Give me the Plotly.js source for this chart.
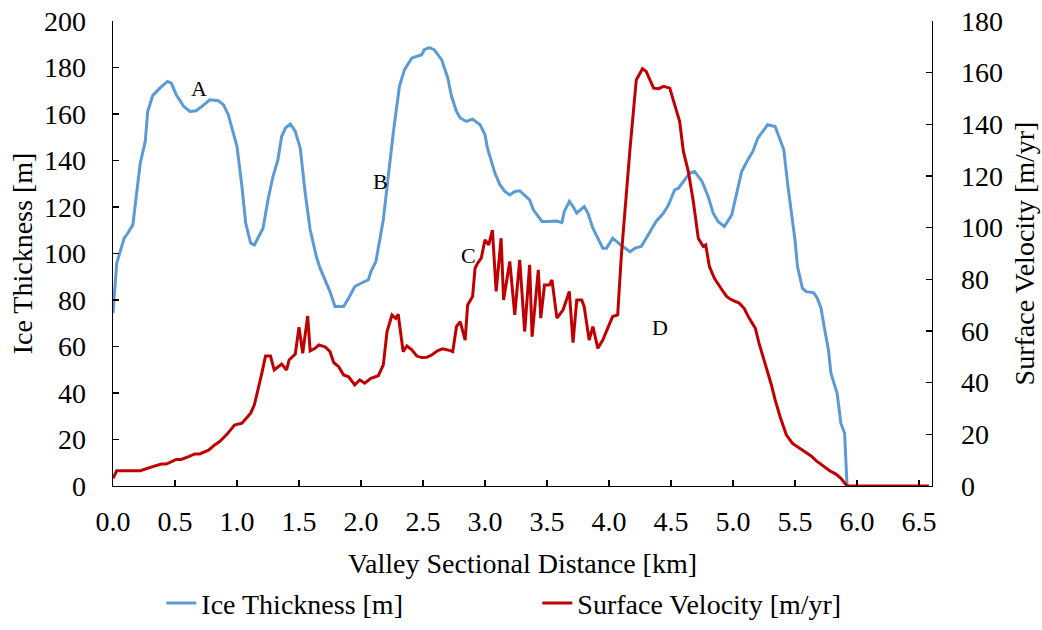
<!DOCTYPE html>
<html>
<head>
<meta charset="utf-8">
<script src="https://cdn.plot.ly/plotly-3.0.1.min.js"></script>
<style>
  html, body { margin: 0; padding: 0; background: #ffffff; }
  #chart { width: 1042px; height: 630px; }
</style>
</head>
<body>
<div id="chart"></div>
<script>
// Ice thickness profile [m] along the valley section [km]
const iceDistKm = [
  0.00, 0.03, 0.09, 0.12, 0.16, 0.19, 0.22, 0.26, 0.28, 0.32,
  0.38, 0.44, 0.47, 0.51, 0.57, 0.62, 0.67, 0.71, 0.78, 0.85,
  0.89, 0.93, 0.97, 1.00, 1.04, 1.07, 1.11, 1.14, 1.21, 1.25,
  1.29, 1.33, 1.36, 1.39, 1.43, 1.47, 1.51, 1.55, 1.59, 1.64,
  1.67, 1.71, 1.75, 1.79, 1.86, 1.90, 1.95, 2.00, 2.06, 2.08,
  2.12, 2.18, 2.22, 2.26, 2.31, 2.35, 2.41, 2.45, 2.49, 2.51,
  2.55, 2.59, 2.65, 2.70, 2.73, 2.77, 2.80, 2.85, 2.90, 2.96,
  3.00, 3.02, 3.08, 3.12, 3.16, 3.20, 3.24, 3.28, 3.32, 3.36,
  3.39, 3.46, 3.51, 3.58, 3.62, 3.64, 3.68, 3.71, 3.74, 3.80,
  3.83, 3.87, 3.91, 3.95, 3.98, 4.03, 4.11, 4.17, 4.21, 4.26,
  4.30, 4.34, 4.38, 4.44, 4.48, 4.53, 4.56, 4.61, 4.65, 4.69,
  4.75, 4.80, 4.84, 4.88, 4.93, 4.99, 5.03, 5.07, 5.12, 5.16,
  5.20, 5.24, 5.28, 5.34, 5.36, 5.41, 5.44, 5.47, 5.50, 5.52,
  5.56, 5.59, 5.65, 5.68, 5.71, 5.74, 5.77, 5.79, 5.84, 5.87,
  5.90, 5.92
];
const iceThickness = [
  74.3, 95.8, 106.6, 108.8, 112.3, 124.5, 138.9, 148.2, 161.1, 167.9,
  171.2, 174.0, 173.3, 168.3, 163.3, 161.1, 161.4, 163.0, 166.1, 165.7,
  164.0, 159.7, 151.8, 146.0, 128.8, 113.1, 104.5, 103.7, 110.9, 123.1,
  133.1, 140.3, 150.3, 153.9, 155.7, 152.5, 145.3, 126.0, 110.2, 98.7,
  93.7, 88.7, 83.6, 77.2, 77.2, 80.8, 85.8, 87.2, 88.7, 92.2,
  96.5, 114.5, 134.6, 151.8, 171.9, 179.0, 184.1, 184.8, 185.5, 187.7,
  188.6, 187.7, 183.4, 175.5, 167.6, 161.1, 158.3, 156.8, 157.8, 155.4,
  151.1, 145.3, 134.6, 129.6, 126.7, 125.2, 126.7, 127.0, 125.2, 123.1,
  118.8, 113.8, 113.8, 114.0, 113.3, 118.1, 122.4, 120.2, 117.4, 120.2,
  117.4, 110.9, 106.6, 102.3, 102.3, 106.6, 103.0, 100.8, 102.3, 103.0,
  106.6, 110.2, 113.8, 117.4, 120.9, 127.4, 128.1, 131.7, 134.6, 135.3,
  131.0, 124.5, 117.4, 113.8, 111.6, 116.6, 126.0, 135.3, 140.3, 143.9,
  149.6, 152.5, 155.4, 154.6, 151.8, 144.6, 130.3, 118.8, 105.9, 94.4,
  85.1, 83.6, 83.2, 80.8, 76.5, 67.1, 58.5, 48.5, 39.9, 27.0,
  22.7, 0
];

// Surface velocity profile [m/yr] along the valley section [km]
const velDistKm = [
  0.00, 0.03, 0.22, 0.27, 0.32, 0.39, 0.43, 0.51, 0.55, 0.61,
  0.66, 0.70, 0.77, 0.82, 0.86, 0.92, 0.96, 0.98, 1.04, 1.08,
  1.11, 1.14, 1.17, 1.20, 1.23, 1.27, 1.30, 1.33, 1.36, 1.40,
  1.42, 1.47, 1.50, 1.53, 1.57, 1.59, 1.63, 1.66, 1.71, 1.75,
  1.78, 1.82, 1.86, 1.90, 1.95, 1.99, 2.03, 2.08, 2.14, 2.18,
  2.21, 2.25, 2.28, 2.30, 2.34, 2.37, 2.41, 2.45, 2.49, 2.53,
  2.57, 2.62, 2.66, 2.72, 2.74, 2.77, 2.80, 2.84, 2.86, 2.90,
  2.92, 2.94, 2.97, 3.00, 3.03, 3.06, 3.09, 3.13, 3.15, 3.20,
  3.24, 3.28, 3.32, 3.36, 3.38, 3.43, 3.45, 3.48, 3.52, 3.54,
  3.58, 3.63, 3.68, 3.71, 3.74, 3.78, 3.80, 3.84, 3.87, 3.91,
  3.95, 3.99, 4.03, 4.07, 4.10, 4.17, 4.22, 4.27, 4.30, 4.36,
  4.40, 4.44, 4.49, 4.57, 4.60, 4.64, 4.68, 4.72, 4.76, 4.78,
  4.81, 4.85, 4.89, 4.92, 4.95, 4.99, 5.05, 5.09, 5.13, 5.18,
  5.21, 5.24, 5.27, 5.31, 5.34, 5.38, 5.43, 5.48, 5.55, 5.63,
  5.67, 5.73, 5.78, 5.83, 5.87, 5.92, 6.58
];
const surfaceVelocity = [
  3.0, 5.9, 5.9, 6.8, 7.5, 8.5, 8.5, 10.3, 10.3, 11.4,
  12.4, 12.4, 13.9, 15.9, 17.2, 20.1, 22.3, 23.6, 24.3, 26.8,
  28.2, 31.4, 37.2, 43.6, 50.3, 50.3, 44.9, 46.2, 47.2, 44.9,
  48.8, 51.1, 61.5, 51.4, 65.8, 52.3, 53.3, 54.6, 53.9, 52.0,
  47.8, 46.2, 43.0, 42.3, 39.1, 41.1, 39.8, 41.7, 42.7, 46.9,
  59.8, 66.2, 64.9, 66.5, 52.0, 54.2, 52.7, 50.3, 49.7, 49.8,
  50.7, 52.4, 53.1, 52.4, 52.0, 61.7, 63.6, 56.5, 70.1, 73.3,
  84.3, 86.2, 88.2, 95.3, 93.3, 99.1, 75.3, 95.9, 72.0, 86.9,
  66.2, 87.5, 59.8, 85.6, 57.8, 83.7, 65.0, 77.8, 77.8, 79.8,
  65.0, 68.2, 75.3, 55.5, 72.0, 72.0, 69.4, 56.5, 61.7, 53.3,
  56.5, 61.1, 65.6, 66.2, 89.5, 130.8, 157.2, 161.5, 160.5, 154.0,
  153.8, 154.7, 154.0, 141.1, 129.5, 121.7, 110.1, 95.9, 92.7, 93.3,
  84.9, 80.4, 77.2, 75.3, 73.3, 72.0, 70.8, 68.8, 65.0, 61.1,
  55.3, 50.7, 46.2, 39.1, 33.3, 26.8, 19.8, 16.5, 14.2, 11.6,
  9.8, 7.5, 5.9, 4.6, 3.0, 0, 0
];

// Axis ticks and text labels
const xTickVals = [0, 0.5, 1, 1.5, 2, 2.5, 3, 3.5, 4, 4.5, 5, 5.5, 6, 6.5];
const xTickText = ["0.0", "0.5", "1.0", "1.5", "2.0", "2.5", "3.0", "3.5", "4.0", "4.5", "5.0", "5.5", "6.0", "6.5"];
const labelText = ["A", "B", "C", "D"];
const labelX = [0.69, 2.16, 2.87, 4.41];
const labelY = [171, 131, 99, 68];

const serif = "Liberation Serif, Times New Roman, Times, serif";

function sf(size) { return { family: serif, size: size, color: "#000000" }; }

const traces = [
  {
    x: iceDistKm, y: iceThickness, type: "scatter", mode: "lines",
    name: "Ice Thickness [m]",
    line: { color: "#5B9BD5", width: 3 },
    yaxis: "y"
  },
  {
    x: velDistKm, y: surfaceVelocity, type: "scatter", mode: "lines",
    name: "Surface Velocity [m/yr]",
    line: { color: "#C00000", width: 3 },
    yaxis: "y2"
  }
];

const annotations = labelText.map((t, i) => ({
  x: labelX[i], y: labelY[i], xref: "x", yref: "y",
  text: t, showarrow: false,
  font: sf(22)
}));

const layout = {
  width: 1042, height: 630,
  margin: { l: 113, r: 110, t: 21, b: 144, autoexpand: false },
  paper_bgcolor: "#ffffff", plot_bgcolor: "#ffffff",
  font: sf(28),
  showlegend: true,
  legend: {
    orientation: "h", x: 0.059, xanchor: "left", y: -0.252, yanchor: "middle",
    font: sf(28),
    entrywidth: 331, entrywidthmode: "pixels",
    bgcolor: "rgba(0,0,0,0)"
  },
  xaxis: {
    range: [0, 6.605], tickmode: "array", tickvals: xTickVals, ticktext: xTickText,
    showline: true, linecolor: "#000", linewidth: 1.3,
    ticks: "inside", ticklen: 6, tickwidth: 1.3, tickcolor: "#000",
    showgrid: false, zeroline: false, ticklabelstandoff: 10,
    tickfont: sf(28),
    title: { text: "Valley Sectional Distance [km]", font: sf(28), standoff: 17 }
  },
  yaxis: {
    range: [0, 200], dtick: 20, tick0: 0,
    showline: true, linecolor: "#000", linewidth: 1.3,
    ticks: "inside", ticklen: 6, tickwidth: 1.3, tickcolor: "#000",
    showgrid: false, zeroline: false, ticklabelstandoff: 20,
    tickfont: sf(28),
    title: { text: "Ice Thickness [m]", font: sf(28), standoff: 3 }
  },
  yaxis2: {
    range: [0, 180], dtick: 20, tick0: 0, overlaying: "y", side: "right",
    showline: true, linecolor: "#000", linewidth: 1.3,
    ticks: "inside", ticklen: 6, tickwidth: 1.3, tickcolor: "#000",
    showgrid: false, zeroline: false, ticklabelstandoff: 22,
    tickfont: sf(28),
    title: { text: "Surface Velocity [m/yr]", font: sf(28), standoff: 12 }
  },
  annotations: annotations
};

Plotly.newPlot("chart", traces, layout, { displayModeBar: false, staticPlot: true });
</script>
</body>
</html>
